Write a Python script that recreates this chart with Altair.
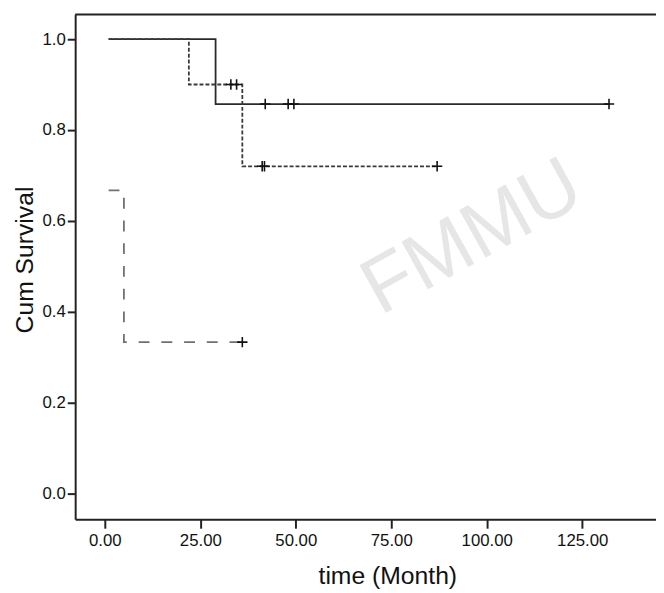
import altair as alt
import pandas as pd

# Kaplan-Meier steps (time in months, cumulative survival)
g1_t = [1, 29, 132]
g1_s = [1.0, 0.857, 0.857]
g2_t = [1, 22, 36, 87]
g2_s = [1.0, 0.9, 0.72, 0.72]
g3_t = [1, 5, 36]
g3_s = [0.667, 0.333, 0.333]

# censored observations
c1_t = [42, 48, 49.5, 132]
c1_s = [0.857, 0.857, 0.857, 0.857]
c2_t = [33, 34.5, 41.2, 41.8, 87]
c2_s = [0.9, 0.9, 0.72, 0.72, 0.72]
c3_t = [36]
c3_s = [0.333]

groups = ["1", "2", "3"]
x_ticks = [0, 25, 50, 75, 100, 125]
y_ticks = [0.0, 0.2, 0.4, 0.6, 0.8, 1.0]

lines = pd.concat([
    pd.DataFrame({"t": g1_t, "s": g1_s, "g": "1"}),
    pd.DataFrame({"t": g2_t, "s": g2_s, "g": "2"}),
    pd.DataFrame({"t": g3_t, "s": g3_s, "g": "3"}),
])
cens = pd.concat([
    pd.DataFrame({"t": c1_t, "s": c1_s, "g": "1"}),
    pd.DataFrame({"t": c2_t, "s": c2_s, "g": "2"}),
    pd.DataFrame({"t": c3_t, "s": c3_s, "g": "3"}),
])

FONT = "Liberation Sans"
AX = "#222222"

x_scale = alt.Scale(domain=[-7.76, 144.3], nice=False, zero=False)
y_scale = alt.Scale(domain=[-0.057, 1.054], nice=False, zero=False)

x_axis = alt.Axis(values=x_ticks, format=".2f", grid=False, tickSize=9, tickWidth=2,
                  tickColor=AX, domainColor=AX, domainWidth=2, labelFontSize=17,
                  labelFont=FONT, labelColor="#111", labelPadding=5,
                  title="time (Month)", titleFont=FONT, titleFontSize=25,
                  titleFontWeight="normal", titleColor="#111",
                  titleX=316, titleY=45, titleBaseline="top")
y_axis = alt.Axis(values=y_ticks, format=".1f", grid=False, tickSize=8, tickWidth=2,
                  tickColor=AX, domainColor=AX, domainWidth=2, labelFontSize=17,
                  labelFont=FONT, labelColor="#111", labelPadding=2,
                  title="Cum Survival", titleFont=FONT, titleFontSize=25,
                  titleFontWeight="normal", titleColor="#111",
                  titleX=-38, titleY=248)

wm = alt.Chart(pd.DataFrame({"w": ["FMMU"]})).mark_text(
    angle=331, fontSize=80, font=FONT, color="#e6e6e6"
).encode(x=alt.value(402), y=alt.value(226), text="w:N")

top = alt.Chart(pd.DataFrame({"a": [0]})).mark_rule(color=AX, strokeWidth=2).encode(
    x=alt.value(0), x2=alt.value(588), y=alt.value(0))

line = alt.Chart(lines).mark_line(interpolate="step-after", strokeWidth=1.8).encode(
    x=alt.X("t:Q", scale=x_scale, axis=x_axis),
    y=alt.Y("s:Q", scale=y_scale, axis=y_axis),
    color=alt.Color("g:N", scale=alt.Scale(domain=groups, range=["#2a2a2a", "#3a3a3a", "#707070"]), legend=None),
    strokeDash=alt.StrokeDash("g:N", scale=alt.Scale(domain=groups, range=[[1, 0], [4, 2], [11, 12]]), legend=None),
)

marks = alt.Chart(cens).mark_point(
    shape="M-1,0L1,0M0,-1L0,1", filled=False, size=110, strokeWidth=1.6, color="#111", opacity=1
).encode(x=alt.X("t:Q", scale=x_scale), y=alt.Y("s:Q", scale=y_scale))

chart = alt.layer(wm, top, line, marks).properties(
    width=588, height=511,
    autosize=alt.AutoSizeParams(type="none"),
    padding={"left": 68, "top": 3, "right": 0, "bottom": 72},
).configure_view(stroke=None)

chart.save("out.html", embed_options={"renderer": "svg", "actions": False})
